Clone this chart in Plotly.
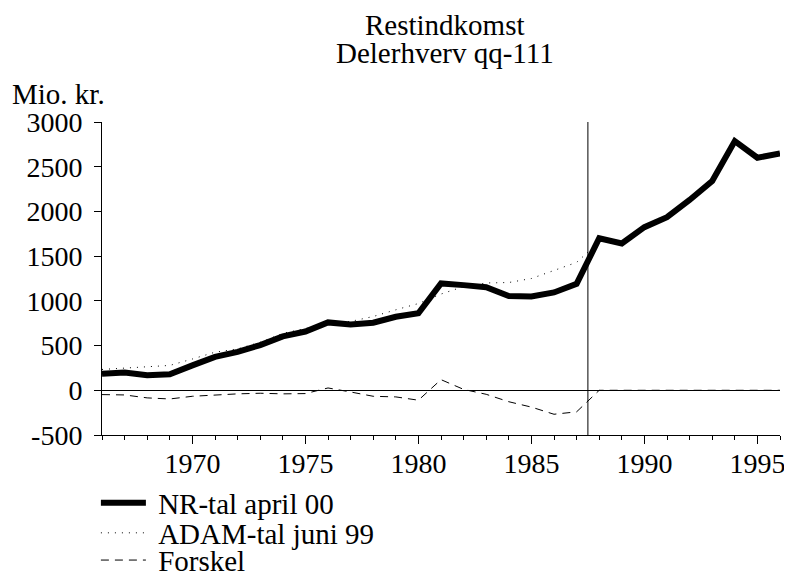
import plotly.graph_objects as go

# ---- data ----
years = list(range(1966, 1997))
nr_values = [186, 200, 168, 179, 279, 374, 430, 505, 603, 657,
             759, 735, 755, 822, 862, 1195, 1176, 1152, 1055, 1050,
             1094, 1190, 1700, 1642, 1824, 1935, 2128, 2340, 2786, 2600, 2648]
adam_years = list(range(1966, 1989))
adam_values = [233, 249, 259, 278, 350, 426, 463, 537, 637, 688,
               745, 770, 825, 900, 970, 1076, 1160, 1200, 1205, 1250,
               1340, 1430, 1660]
forskel_values = [-48, -52, -85, -97, -67, -50, -40, -33, -40, -37,
                  26, -19, -67, -74, -111, 119, 10, -45, -128, -188,
                  -268, -241, 0, 0, 0, 0, 0, 0, 0, 0, 0]
series_names = ["NR-tal april 00", "ADAM-tal juni 99", "Forskel"]
title_lines = ["Restindkomst", "Delerhverv qq-111"]
y_unit_label = "Mio. kr."
y_tick_vals = [-500, 0, 500, 1000, 1500, 2000, 2500, 3000]
y_tick_text = ["-500", "0", "500", "1000", "1500", "2000", "2500", "3000"]
break_year = 1987.5
x_range = [1966, 1996]
y_range = [-500, 3000]

FONT = "Liberation Serif"
FS = 29        # title, legend, unit label
FS_TICK = 28   # tick labels
PAD = "\u00a0"  # small gap between legend line sample and its label

fig = go.Figure()
fig.add_trace(go.Scatter(x=years, y=nr_values, mode="lines", name=PAD + series_names[0],
                         line=dict(color="black", width=6), legend="legend"))
fig.add_trace(go.Scatter(x=adam_years, y=adam_values, mode="lines", name=PAD + series_names[1],
                         line=dict(color="black", width=1, dash="1px,6px"), legend="legend2"))
fig.add_trace(go.Scatter(x=years, y=forskel_values, mode="lines", name=PAD + series_names[2],
                         line=dict(color="black", width=1, dash="8px,6px"), legend="legend3"))

fig.add_shape(type="line", xref="x", yref="paper", x0=break_year, x1=break_year, y0=0, y1=1,
              line=dict(color="black", width=1))

legend_common = dict(xanchor="left", yanchor="middle", bgcolor="rgba(0,0,0,0)",
                     borderwidth=0, font=dict(family=FONT, size=FS, color="black"),
                     itemwidth=45, tracegroupgap=0)

# page body has an 8px margin, so the figure is 16px smaller than the window
fig.update_layout(
    width=784, height=566,
    margin=dict(l=94, r=12, t=114, b=139, autoexpand=False),
    paper_bgcolor="white", plot_bgcolor="white",
    font=dict(family=FONT, size=FS, color="black"),
    showlegend=True,
    legend=dict(x=-0.009, y=-0.217, **legend_common),
    legend2=dict(x=-0.009, y=-0.313, **legend_common),
    legend3=dict(x=-0.009, y=-0.400, **legend_common),
    xaxis=dict(range=x_range, showgrid=False, zeroline=False, showline=True,
               linecolor="black", linewidth=1, ticks="outside", ticklen=8,
               tickcolor="black", tick0=1970, dtick=5,
               ticklabelposition="outside", ticklabelstandoff=-5,
               minor=dict(dtick=1, ticks="outside", ticklen=4, tickcolor="black", showgrid=False),
               tickfont=dict(family=FONT, size=FS_TICK, color="black")),
    yaxis=dict(range=y_range, showgrid=False, zeroline=True, zerolinecolor="black",
               zerolinewidth=1, showline=True, linecolor="black", linewidth=1,
               ticks="outside", ticklen=7, tickcolor="black",
               tickmode="array", tickvals=y_tick_vals, ticktext=y_tick_text,
               ticklabelposition="outside", ticklabelstandoff=6,
               tickfont=dict(family=FONT, size=FS_TICK, color="black")),
)

fig.add_annotation(text=title_lines[0], xref="paper", yref="paper", x=0.506, y=1.31,
                   xanchor="center", yanchor="middle", showarrow=False,
                   font=dict(family=FONT, size=FS, color="black"))
fig.add_annotation(text=title_lines[1], xref="paper", yref="paper", x=0.506, y=1.222,
                   xanchor="center", yanchor="middle", showarrow=False,
                   font=dict(family=FONT, size=FS, color="black"))
fig.add_annotation(text=y_unit_label, xref="paper", yref="paper", x=-0.135, y=1.09,
                   xanchor="left", yanchor="middle", showarrow=False,
                   font=dict(family=FONT, size=FS, color="black"))

fig.write_html("out.html")
